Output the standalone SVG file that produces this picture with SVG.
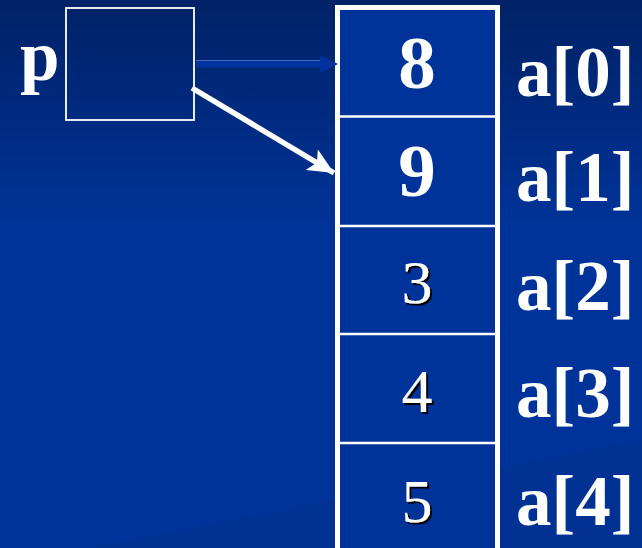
<svg xmlns="http://www.w3.org/2000/svg" width="642" height="548" viewBox="0 0 642 548">
  <defs>
    <linearGradient id="bg" x1="0" y1="0" x2="0" y2="1">
      <stop offset="0" stop-color="#002266"/>
      <stop offset="0.42" stop-color="#003399"/>
      <stop offset="1" stop-color="#003399"/>
    </linearGradient>
    <filter id="drop" x="-20%" y="-20%" width="140%" height="140%">
      <feDropShadow dx="2" dy="2" stdDeviation="0" flood-color="#000000" flood-opacity="1"/>
    </filter>
    <marker id="headWhite" markerUnits="userSpaceOnUse" markerWidth="28" markerHeight="24" refX="26" refY="12" orient="auto">
      <path d="M0,0 L26,12 L0,24 L6,12 Z" fill="#ffffff"/>
    </marker>
  </defs>
  <style>
    .bold { font-family: "Liberation Serif", "Times New Roman", serif; font-weight: bold; fill: #ffffff; }
    .reg { font-family: "Liberation Serif", "Times New Roman", serif; font-weight: normal; fill: #ffffff; filter: url(#drop); }
    .num { font-size: 75px; text-anchor: middle; }
    .numr { font-size: 62px; text-anchor: middle; }
    .lbl { font-size: 71px; }
  </style>

  <!-- background -->
  <rect x="0" y="0" width="642" height="548" fill="url(#bg)"/>
  <polygon points="90,548 642,440 642,548" fill="#00308f" opacity="0.6"/>

  <!-- pointer variable p -->
  <g id="pointer-p">
    <text class="bold lbl" x="20" y="80">p</text>
    <rect x="66" y="8" width="128" height="112" fill="none" stroke="#ffffff" stroke-width="1.8"/>
  </g>

  <!-- array a[0..4] -->
  <g id="array-a">
    <rect x="337.5" y="7.5" width="160" height="545" fill="#003399" stroke="#ffffff" stroke-width="5"/>
    <line x1="340" y1="116.5" x2="495" y2="116.5" stroke="#ffffff" stroke-width="2.5"/>
    <line x1="340" y1="226" x2="495" y2="226" stroke="#ffffff" stroke-width="2.5"/>
    <line x1="340" y1="334" x2="495" y2="334" stroke="#ffffff" stroke-width="2.5"/>
    <line x1="340" y1="443" x2="495" y2="443" stroke="#ffffff" stroke-width="2.5"/>
  </g>

  <g id="cell-0"><text class="bold num" x="417" y="88">8</text></g>
  <g id="cell-1"><text class="bold num" x="417" y="196">9</text></g>
  <g id="cell-2"><text class="reg numr" x="417" y="303">3</text></g>
  <g id="cell-3"><text class="reg numr" x="417" y="412">4</text></g>
  <g id="cell-4"><text class="reg numr" x="417" y="522">5</text></g>

  <!-- element labels -->
  <g id="labels">
    <text class="bold lbl" x="516" y="96">a[0]</text>
    <text class="bold lbl" x="516" y="201">a[1]</text>
    <text class="bold lbl" x="516" y="310">a[2]</text>
    <text class="bold lbl" x="516" y="417">a[3]</text>
    <text class="bold lbl" x="516" y="525">a[4]</text>
  </g>

  <!-- connectors -->
  <g id="connectors">
    <!-- previous pointer target -->
    <line x1="196" y1="64" x2="322" y2="64" stroke="#0033a0" stroke-width="7"/>
    <line x1="196" y1="60.5" x2="320" y2="60.5" stroke="#4a68b8" stroke-width="1"/>
    <polygon points="320,55 338,64 320,73" fill="#0033a0"/>
    <!-- current pointer target -->
    <line x1="192" y1="88" x2="334" y2="173" stroke="#ffffff" stroke-width="5.5" marker-end="url(#headWhite)"/>
  </g>
</svg>
